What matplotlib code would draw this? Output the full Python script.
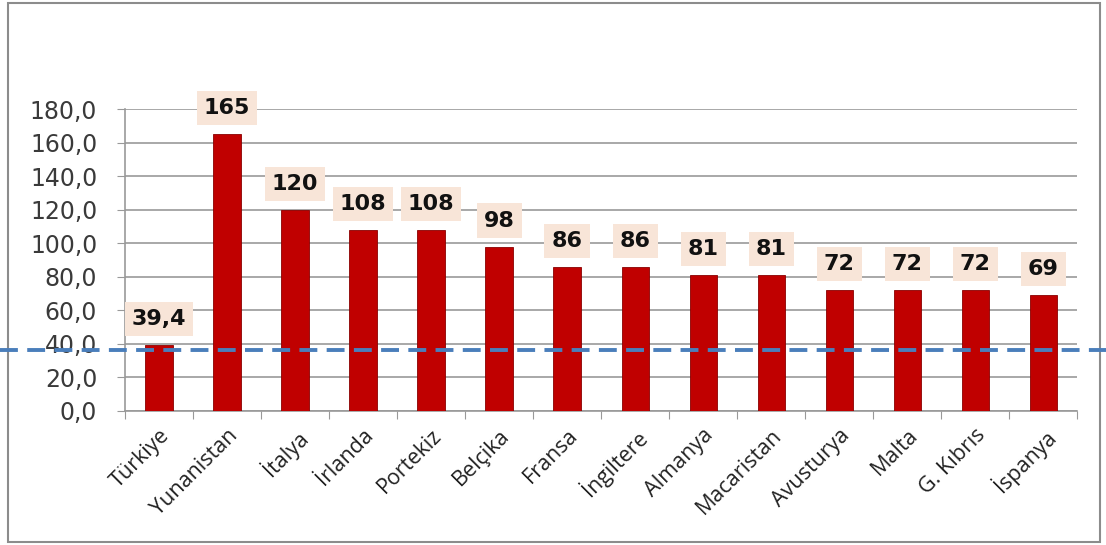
import matplotlib
matplotlib.use("Agg")
import matplotlib.pyplot as plt
from matplotlib.patches import Rectangle

# veriler
ulkeler = ["Türkiye", "Yunanistan", "İtalya", "İrlanda", "Portekiz", "Belçika",
           "Fransa", "İngiltere", "Almanya", "Macaristan", "Avusturya", "Malta",
           "G. Kıbrıs", "İspanya"]
degerler = [39.4, 165, 120, 108, 108, 98, 86, 86, 81, 81, 72, 72, 72, 69]
etiketler = ["39,4", "165", "120", "108", "108", "98", "86", "86", "81", "81",
             "72", "72", "72", "69"]
esik = 36.5
y_ticks = [0, 20, 40, 60, 80, 100, 120, 140, 160, 180]

fig = plt.figure(figsize=(11.06, 5.45), dpi=100)
ax = fig.add_axes([0.113, 0.246, 0.861, 0.554])

x = list(range(len(ulkeler)))
ax.bar(x, degerler, width=0.4, color="#c00000", edgecolor="#8a0000",
       linewidth=0.6, zorder=3)

for xi, v, t in zip(x, degerler, etiketler):
    ax.text(xi, v + 15.5, t, ha="center", va="center", fontsize=16,
            fontweight="bold", color="#111111", zorder=5, clip_on=False,
            bbox=dict(boxstyle="square,pad=0.32", fc="#f8e5d8", ec="none"))

ax.set_xlim(-0.5, len(ulkeler) - 0.5)
ax.set_ylim(0, 180)
ax.set_yticks(y_ticks)
ax.set_yticklabels([f"{v:.1f}".replace(".", ",") for v in y_ticks],
                   fontsize=17, color="#3a3a3a", family="DejaVu Sans")
ax.yaxis.grid(True, color="#999999", linewidth=1.2, zorder=0)
ax.set_axisbelow(True)

ax.set_xticks([i - 0.5 for i in range(len(ulkeler) + 1)], minor=False)
ax.set_xticklabels([])
ax.set_xticks(x, minor=True)
ax.set_xticklabels(ulkeler, minor=True, rotation=45, ha="right",
                   rotation_mode="anchor", fontsize=15.5, color="#222222",
                   family="Open Sans")
ax.tick_params(axis="x", which="minor", length=0, pad=10)
ax.tick_params(axis="x", which="major", length=6, color="#999999", direction="out")
ax.tick_params(axis="y", length=6, color="#999999", pad=14)

for s in ["top", "right"]:
    ax.spines[s].set_visible(False)
ax.spines["left"].set_color("#999999")
ax.spines["bottom"].set_color("#999999")
ax.spines["left"].set_linewidth(1.2)
ax.spines["bottom"].set_linewidth(1.2)

# referans çizgisi tüm genişlik boyunca
y_fig = fig.transFigure.inverted().transform(ax.transData.transform((0, esik)))[1]
fig.add_artist(plt.Line2D([0, 1], [y_fig, y_fig], color="#4a7ebb",
                          linewidth=2.8, linestyle=(0, (4.6, 2.4)), zorder=10))

# dış çerçeve
fig.add_artist(Rectangle((0.007, 0.005), 0.988, 0.99, transform=fig.transFigure,
                         fill=False, ec="#8c8c8c", lw=1.5))

fig.savefig("out.png", dpi=100, facecolor="white")
